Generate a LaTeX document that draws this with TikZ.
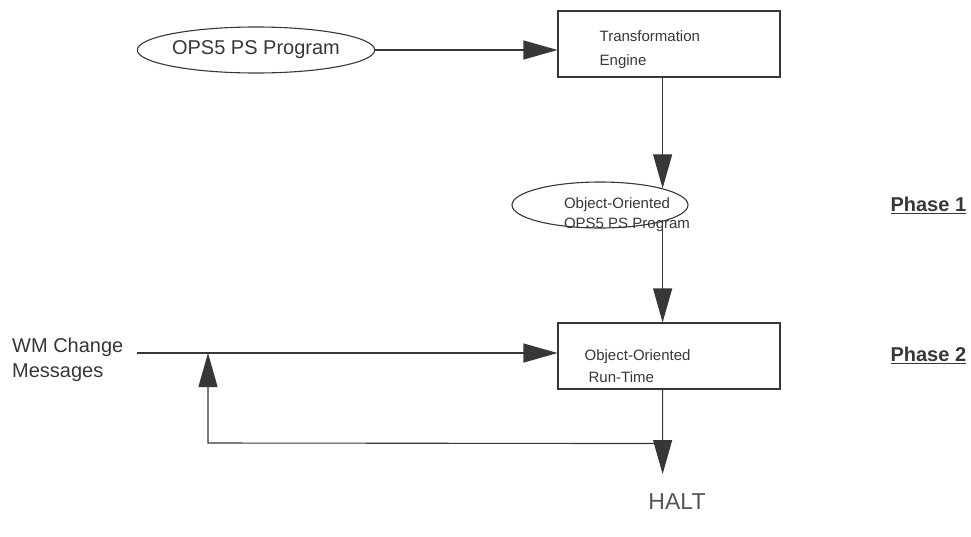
\documentclass[tikz,border=0pt]{standalone}
\usepackage{fontspec}
\setmainfont{Liberation Sans}
\usetikzlibrary{arrows.meta}
\usetikzlibrary{positioning}
\usetikzlibrary{shapes.geometric}
\definecolor{ink}{RGB}{55,55,55}
\tikzset{>={Triangle[length=34pt,width=19pt]},
         link/.style={draw=ink, line width=1.1pt},
         stagebox/.style={draw=ink, line width=1.1pt, rectangle,
                          minimum width=222pt, minimum height=66pt, inner sep=0pt},
         stagetext/.style={text=ink, inner sep=0pt, align=left,
                           font=\fontsize{15}{24}\selectfont},
         program/.style={draw=ink, line width=1.1pt, ellipse, inner sep=0pt,
                         text=ink},
         phase/.style={text=ink, anchor=west, font=\fontsize{20}{24}\selectfont\bfseries}}

\begin{document}
\begin{tikzpicture}[x=1pt,y=-1pt]
  \useasboundingbox (0,0) rectangle (971,536);
  % phase 1
  \node[program, minimum width=227pt, minimum height=46pt,
        font=\fontsize{20}{24}\selectfont] (ops) at (256,50) {OPS5 PS Program};
  \node[stagebox] (trans) at (669,44) {};
  \node[stagetext, right=42pt of trans.west, yshift=-6pt] (transtext)
    {Transformation\\Engine};
  \node[program, minimum width=176pt, minimum height=46pt] (oops) at (600,205) {};
  \node[stagetext, font=\fontsize{15}{20}\selectfont] (oopstext) at (627,215)
    {Object-Oriented\\OPS5 PS Program};
  \draw[link, ->] (ops) -- (ops -| trans.west);
  \draw[link, ->] (trans.south -| oops.north east) -- (oops.north east);
  % phase 2
  \node[stagebox] (run) at (669,356) {};
  \node[stagetext, right=27pt of run.west, yshift=-10pt, font=\fontsize{15}{22}\selectfont]
    (runtext) {Object-Oriented\\\hspace{4pt}Run-Time};
  \node[text=ink, anchor=west, align=left, inner sep=0pt,
        font=\fontsize{20}{25}\selectfont] (wm) at (12,360) {WM Change\\Messages};
  \coordinate (wmstart) at (137,353);
  \coordinate (junc) at (run.south -| oops.south east);
  \coordinate (junc) at ([yshift=-54pt]junc);
  \coordinate (back) at (208,443);
  \draw[link, ->] (oops.south east) -- (oops.south east |- run.north);
  \draw[link, ->] (wmstart) -- (wmstart -| run.west);
  \draw[link, ->] (run.south -| junc) -- (junc) -- (back) -- (back |- wmstart);
  \node[text=ink!85, anchor=north, inner ysep=19pt, inner xsep=0pt,
        font=\fontsize{23}{26}\selectfont] (halt) at (677,474) {HALT};
  \draw[link, ->] (junc) -- (junc |- halt.north);
  \node[phase] (phaseone) at (887,205) {\underline{Phase 1}};
  \node[phase] (phasetwo) at (887,355) {\underline{Phase 2}};
\end{tikzpicture}
\end{document}
